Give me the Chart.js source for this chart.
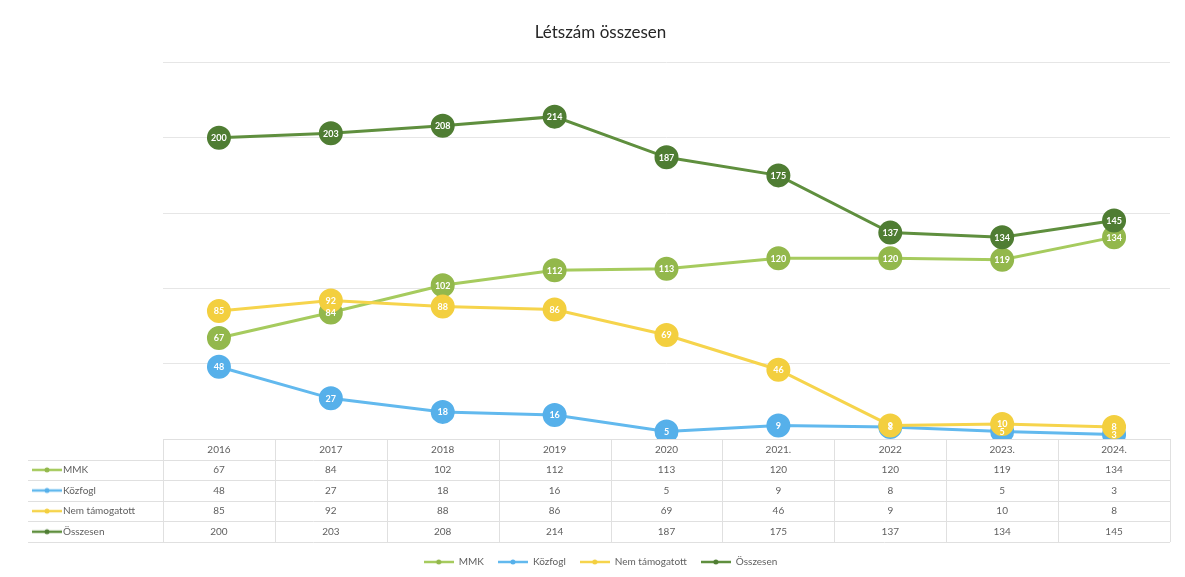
<!DOCTYPE html>
<html lang="hu">
<head>
    <meta charset="UTF-8">
    <title>Létszám összesen</title>
    <script src="https://cdn.jsdelivr.net/npm/chart.js"></script>
    <style>
        body { margin: 0; background: #fff; }
        #wrap { width: 1185px; height: 577px; }
    </style>
</head>
<body>
<div id="wrap"><canvas id="letszamChart"></canvas></div>

<script>
    const years = ['2016', '2017', '2018', '2019', '2020', '2021.', '2022', '2023.', '2024.'];
    const mmk = [67, 84, 102, 112, 113, 120, 120, 119, 134];
    const kozfogl = [48, 27, 18, 16, 5, 9, 8, 5, 3];
    const nemTamogatott = [85, 92, 88, 86, 69, 46, 9, 10, 8];
    const osszesen = [200, 203, 208, 214, 187, 175, 137, 134, 145];

    const seriesNames = ['MMK', 'Közfogl', 'Nem támogatott', 'Összesen'];
    const lineColors = ['#a6cb5e', '#62b9ee', '#f6d44c', '#5f8f3e'];
    const pointColors = ['#93b84c', '#56b0ea', '#f3cf3f', '#4f7d33'];

    // small "line with dot" key, used in legend and table
    function makeKey(lineColor, dotColor) {
        const c = document.createElement('canvas');
        c.width = 30; c.height = 8;
        const g = c.getContext('2d');
        g.strokeStyle = lineColor;
        g.lineWidth = 2.5;
        g.beginPath(); g.moveTo(0, 4); g.lineTo(30, 4); g.stroke();
        g.fillStyle = dotColor;
        g.beginPath(); g.arc(15, 4, 2.5, 0, Math.PI * 2); g.fill();
        return c;
    }
    const keys = lineColors.map((c, i) => makeKey(c, pointColors[i]));

    const dataTablePlugin = {
        id: 'dataTable',
        afterDatasetsDraw(chart) {
            // value labels inside the markers
            const ctx = chart.ctx;
            ctx.save();
            ctx.font = 'bold 9px Lato, sans-serif';
            ctx.fillStyle = '#ffffff';
            ctx.textAlign = 'center';
            ctx.textBaseline = 'middle';
            chart.data.datasets.forEach((ds, di) => {
                chart.getDatasetMeta(di).data.forEach((pt, i) => {
                    ctx.fillText(ds.data[i], pt.x, pt.y + 0.5);
                });
            });
            ctx.restore();
        },
        afterDraw(chart) {
            const ctx = chart.ctx;
            const area = chart.chartArea;
            const x = chart.scales.x;
            const top = area.bottom;
            const rowH = 20.6;
            const colW = (area.right - area.left) / years.length;
            const rows = [mmk, kozfogl, nemTamogatott, osszesen];

            ctx.save();
            ctx.strokeStyle = '#e0e0e0';
            ctx.lineWidth = 1;
            // horizontal lines
            for (let r = 0; r <= 5; r++) {
                const y = Math.round(top + r * rowH) + 0.5;
                ctx.beginPath();
                ctx.moveTo(r === 0 ? area.left : 28, y);
                ctx.lineTo(area.right, y);
                ctx.stroke();
            }
            // vertical lines
            for (let c = 0; c <= years.length; c++) {
                const xx = Math.round(area.left + c * colW) + 0.5;
                ctx.beginPath();
                ctx.moveTo(xx, top);
                ctx.lineTo(xx, top + 5 * rowH);
                ctx.stroke();
            }

            ctx.font = '10px Lato, sans-serif';
            ctx.fillStyle = '#5f5f5f';
            ctx.textBaseline = 'middle';
            ctx.textAlign = 'center';
            years.forEach((yr, i) => {
                ctx.fillText(yr, x.getPixelForValue(i), top + rowH * 0.5);
            });
            rows.forEach((vals, r) => {
                const yy = top + rowH * (r + 1.5);
                vals.forEach((v, i) => {
                    ctx.fillText(v, x.getPixelForValue(i), yy);
                });
                ctx.drawImage(keys[r], 32, yy - 4);
                ctx.textAlign = 'left';
                ctx.fillText(seriesNames[r], 63, yy);
                ctx.textAlign = 'center';
            });
            ctx.restore();
        }
    };

    function makeDataset(i, values) {
        return {
            label: seriesNames[i],
            data: values,
            borderColor: lineColors[i],
            backgroundColor: pointColors[i],
            pointBackgroundColor: pointColors[i],
            pointBorderColor: pointColors[i],
            borderWidth: 3,
            pointRadius: 10.5,
            pointHoverRadius: 10.5,
            order: 3 - i
        };
    }

    new Chart(document.getElementById('letszamChart'), {
        type: 'line',
        data: {
            labels: years,
            datasets: [
                makeDataset(0, mmk),
                makeDataset(1, kozfogl),
                makeDataset(2, nemTamogatott),
                makeDataset(3, osszesen)
            ]
        },
        options: {
            responsive: true,
            maintainAspectRatio: false,
            animation: false,
            layout: { padding: { left: 16, right: 0, top: 0, bottom: 0 } },
            plugins: {
                title: {
                    display: true,
                    text: 'Létszám összesen',
                    color: '#262626',
                    font: { family: 'Lato', size: 17, weight: 'normal' },
                    padding: { top: 22, bottom: 20 }
                },
                legend: {
                    position: 'bottom',
                    labels: {
                        usePointStyle: true,
                        pointStyleWidth: 30,
                        color: '#5f5f5f',
                        font: { family: 'Lato', size: 10 },
                        padding: 14,
                        generateLabels(chart) {
                            return chart.data.datasets.map((ds, i) => ({
                                text: ds.label,
                                pointStyle: keys[i],
                                fillStyle: ds.borderColor,
                                strokeStyle: ds.borderColor,
                                lineWidth: 0,
                                fontColor: '#5f5f5f',
                                datasetIndex: i,
                                hidden: false
                            }));
                        }
                    }
                },
                tooltip: { enabled: false }
            },
            scales: {
                x: {
                    offset: true,
                    grid: { display: false },
                    border: { display: false },
                    ticks: { display: false },
                    afterFit(scale) { scale.height = 104; }
                },
                y: {
                    min: 0,
                    max: 250,
                    ticks: { display: false, stepSize: 50 },
                    border: { display: false },
                    grid: { color: '#e6e6e6', drawTicks: false },
                    afterFit(scale) { scale.width = 147; }
                },
                yRight: {
                    position: 'right',
                    min: 0,
                    max: 250,
                    ticks: { display: false },
                    border: { display: false },
                    grid: { display: false, drawTicks: false },
                    afterFit(scale) { scale.width = 15; }
                }
            }
        },
        plugins: [dataTablePlugin]
    });
</script>
</body>
</html>
